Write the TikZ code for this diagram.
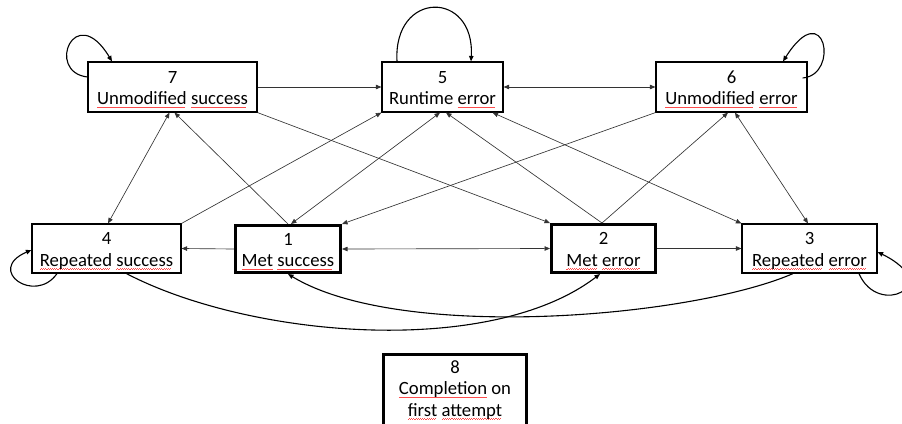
\documentclass[tikz,border=0pt]{standalone}
\usepackage{fontspec}
\setmainfont{Carlito}
\usetikzlibrary{arrows.meta,calc}
\newcommand\spell[1]{\setbox0\hbox{#1}\leavevmode\rlap{\lower3.4pt\hbox to\wd0{\color{red!70}\leaders\hbox to 2.2pt{\rule[0pt]{1.1pt}{0.45pt}\rule[0.55pt]{1.1pt}{0.45pt}}\hfill}}\box0\relax}
\newcommand\tstrut{\rule{0pt}{18.5pt}}
\newcommand\bstrut[1]{\rule[-#1]{0pt}{#1}}
\tikzset{
  box/.style={draw, line width=1.2pt, rectangle, inner sep=0pt, align=center,
    font=\fontsize{18.7}{21.5}\selectfont, fill=white},
  thickbox/.style={box, line width=3pt},
  conn/.style={draw=black!80, line width=0.65pt},
  curveline/.style={draw=black, line width=1.1pt},
  onearrow/.style={-{Triangle[length=5.5pt,width=4.5pt]}},
  twoarrow/.style={{Triangle[length=5.5pt,width=4.5pt]}-{Triangle[length=5.5pt,width=4.5pt]}}
}
\begin{document}
\begin{tikzpicture}[x=1pt,y=-1pt]
\useasboundingbox (0,0) rectangle (902,423);
% nodes
\node[box, minimum width=169pt, minimum height=50pt] (n7) at (172.5,87) {\tstrut 7\\\spell{Unmodified} \spell{success}\bstrut{5pt}};
\node[box, minimum width=121pt, minimum height=50pt] (n5) at (442.5,87) {\tstrut 5\\Runtime \spell{error}\bstrut{5pt}};
\node[box, minimum width=151pt, minimum height=50pt] (n6) at (731.5,87) {\tstrut 6\\\spell{Unmodified} \spell{error}\bstrut{5pt}};
\node[box, minimum width=149pt, minimum height=49pt] (n4) at (106.5,248.5) {\tstrut 4\\\spell{Repeated} \spell{success}\bstrut{5pt}};
\node[thickbox, minimum width=105pt, minimum height=47pt] (n1) at (288,249) {\tstrut 1\\\spell{Met} \spell{success}\bstrut{5pt}};
\node[thickbox, minimum width=104pt, minimum height=48pt] (n2) at (603.5,248.5) {\tstrut 2\\\spell{Met} \spell{error}\bstrut{5pt}};
\node[box, minimum width=135pt, minimum height=49pt] (n3) at (809.5,248.5) {\tstrut 3\\\spell{Repeated} \spell{error}\bstrut{5pt}};
\node[thickbox, minimum width=143pt, minimum height=72pt] (n8) at (455,391) {\tstrut 8\\\spell{Completion} on\\\spell{first} \spell{attempt}\bstrut{11.5pt}};
% straight connectors
\draw[conn, onearrow] (n7.east) -- (n5.west);
\draw[conn, twoarrow] (n5.east) -- (n6.west);
\draw[conn, onearrow] (n1.west) -- (n4.east);
\draw[conn, twoarrow] (n1.east) -- (n2.west);
\draw[conn, onearrow] (n2.east) -- (n3.west);
\draw[conn, twoarrow] ($(n4.north)+(1.5,0)$) -- ($(n7.south)+(-3,0)$);
\draw[conn, onearrow] (n1.north) -- ($(n7.south)+(2,0)$);
\draw[conn, onearrow] (n4.north east) -- (n5.south west);
\draw[conn, twoarrow] ($(n1.north)+(3,0)$) -- ($(n5.south)+(-2.5,0)$);
\draw[conn, onearrow] ($(n2.north)+(-1.5,0)$) -- ($(n5.south)+(3.5,0)$);
\draw[conn, onearrow] ($(n2.north)+(-1.5,0)$) -- ($(n6.south)+(-3.5,0)$);
\draw[conn, twoarrow] ($(n5.south east)+(-11,0)$) -- (n3.north west);
\draw[conn, twoarrow] ($(n6.south)+(3.5,0)$) -- ($(n3.north)+(-1.5,0)$);
\draw[conn, onearrow] (n6.south west) -- (n1.north east);
\draw[conn, onearrow] (n7.south east) -- (n2.north west);
% long curves
\draw[curveline, onearrow] ($(n4.south)+(20,0)$) .. controls (250,338) and (490,358) .. ($(n2.south)+(-3.5,0)$);
\draw[curveline, onearrow] ($(n3.south)+(-16.5,0)$) .. controls (690,318) and (400,342) .. (n1.south);
% self loops
\draw[curveline, onearrow] ($(n7.west)+(0,-10)$) .. controls (45,72) and (75,0) .. ($(n7.north)+(-60.5,0)$);
\draw[curveline, onearrow] ($(n5.north)+(-45.5,0)$) .. controls (393,-10) and (475,-10) .. ($(n5.north)+(28.5,0)$);
\draw[curveline, onearrow] ($(n6.east)+(-5,-9)$) .. controls (840,75) and (825,-5) .. ($(n6.north)+(51.5,0)$);
\draw[curveline, onearrow] ($(n4.south)+(-49.5,0)$) .. controls (35,305) and (-15,270) .. ($(n4.west)+(0,1.5)$);
\draw[curveline, onearrow] ($(n3.south)+(49.5,0)$) .. controls (878,318) and (945,285) .. ($(n3.east)+(0,3.5)$);
\end{tikzpicture}
\end{document}
